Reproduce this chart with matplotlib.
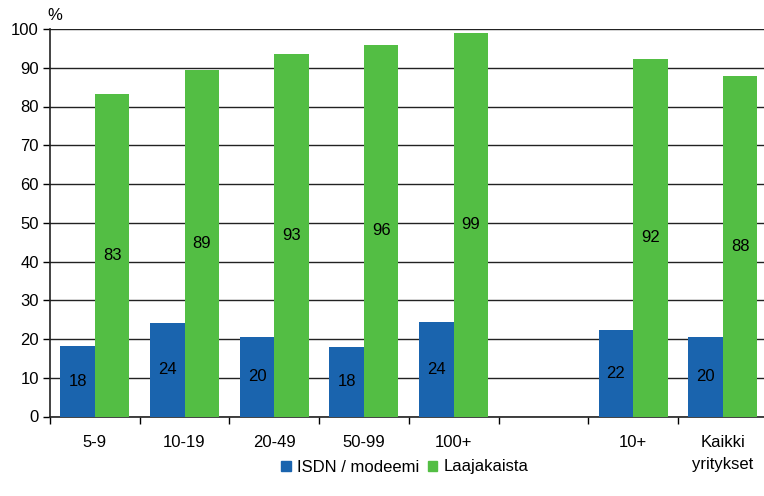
import numpy as np
import matplotlib
matplotlib.use('Agg')
import matplotlib.pyplot as plt

plt.rcParams['font.family'] = ['Liberation Sans', 'DejaVu Sans']

categories = ['5-9', '10-19', '20-49', '50-99', '100+', '', '10+', 'Kaikki\nyritykset']
isdn = [18.3, 24.1, 20.4, 17.9, 24.5, None, 22.4, 20.4]
broadband = [83.2, 89.3, 93.5, 96.0, 99.0, None, 92.3, 87.8]
isdn_lbl = ['18', '24', '20', '18', '24', '', '22', '20']
broadband_lbl = ['83', '89', '93', '96', '99', '', '92', '88']

blue = '#1a64ae'
green = '#53be44'
fs = 12

fig = plt.figure(figsize=(7.64, 4.96), dpi=100)
ax = fig.add_axes([50/764, 79.5/496, 717.6/764, 387.5/496])

w = 0.385
x = np.arange(len(categories))
for i in range(len(categories)):
    if isdn[i] is None:
        continue
    ax.bar(x[i] - w/2, isdn[i], w, color=blue, zorder=3)
    ax.bar(x[i] + w/2, broadband[i], w, color=green, zorder=3)
    ax.text(x[i] - w/2, isdn[i]/2, isdn_lbl[i], ha='center', va='center', fontsize=fs, color='black', zorder=4)
    ax.text(x[i] + w/2, broadband[i]/2, broadband_lbl[i], ha='center', va='center', fontsize=fs, color='black', zorder=4)

ax.set_xlim(-0.5, len(categories) - 0.5)
ax.set_ylim(0, 100)
ax.set_yticks(range(0, 101, 10))
ax.tick_params(axis='y', labelsize=fs, length=5, width=1, pad=3)
ax.yaxis.grid(True, color='#222222', linewidth=1, zorder=0)

ax.set_xticks(np.arange(len(categories) + 1) - 0.5)
ax.set_xticklabels([])
ax.tick_params(axis='x', which='major', length=5, width=1)
ax.set_xticks(x, minor=True)
ax.set_xticklabels(categories, minor=True, fontsize=fs, va='top', linespacing=1.65)
ax.tick_params(axis='x', which='minor', length=0, pad=13)

for s in ['top', 'right']:
    ax.spines[s].set_visible(False)
for s in ['left', 'bottom']:
    ax.spines[s].set_linewidth(1.2)
    ax.spines[s].set_color('#222222')

fig.text(47/764, 1 - 15/496, '%', fontsize=fs, va='center', ha='left')

handles = [plt.Rectangle((0, 0), 1, 1, color=blue), plt.Rectangle((0, 0), 1, 1, color=green)]
fig.legend(handles, ['ISDN / modeemi', 'Laajakaista'], loc='center', bbox_to_anchor=(405/764, 1 - 467/496),
           ncol=2, frameon=False, fontsize=fs, handlelength=0.55, handleheight=0.55,
           handletextpad=0.4, columnspacing=0.5)

fig.savefig('out.png', dpi=100)
